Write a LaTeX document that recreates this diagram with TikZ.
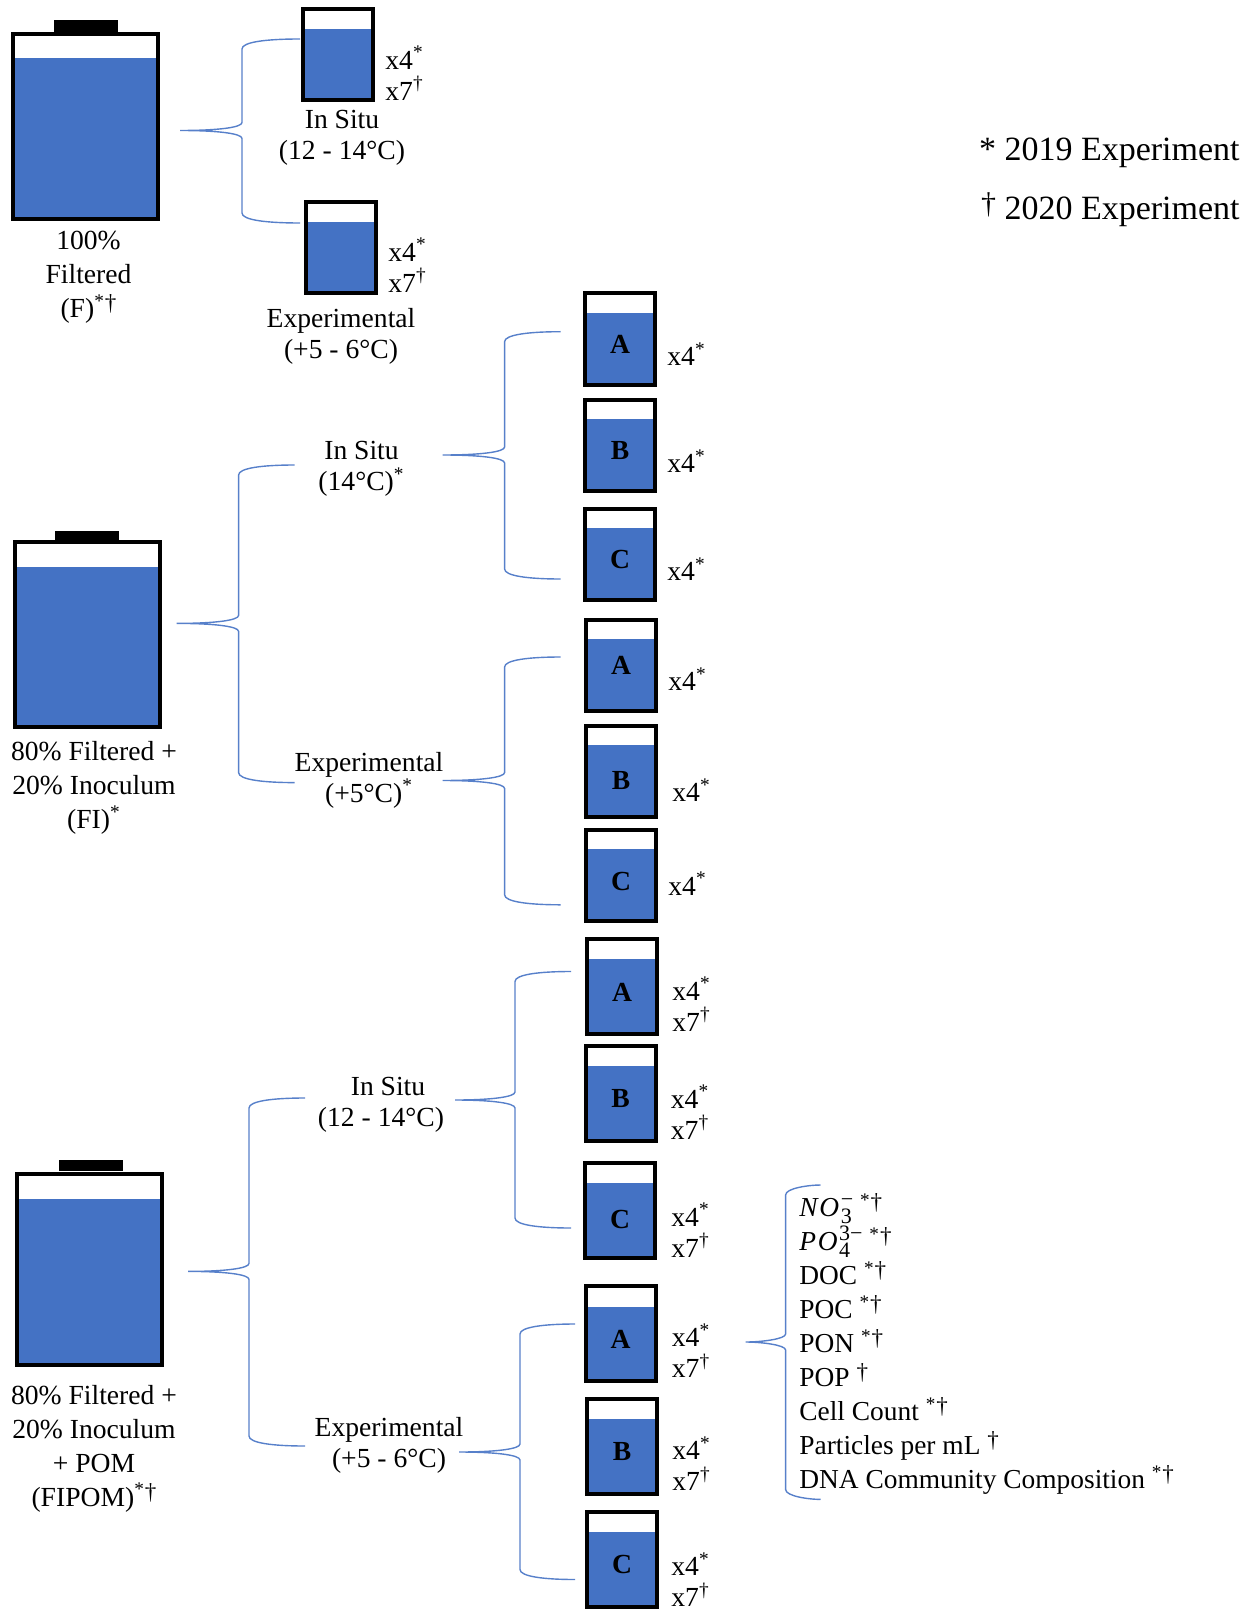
\documentclass[tikz,border=0pt]{standalone}
\usepackage{fontspec}
\setmainfont{Liberation Serif}
\usetikzlibrary{positioning, calc}
\definecolor{waterblue}{HTML}{4472C4}
\newcommand{\yrA}{\textsuperscript{*}}
\newcommand{\yrB}{\textsuperscript{†}}
\newcommand{\yrC}{\raisebox{3.5pt}{\fontsize{11.5}{11.5}\selectfont †}}
\newcommand{\yrAB}{\textsuperscript{*}\yrC}
\newcommand{\ion}[3]{{\addfontfeature{LetterSpace=6}\textit{#1}}\raisebox{-3.5pt}{\rlap{\fontsize{11}{11}\selectfont #2}}\raisebox{5pt}{\fontsize{11}{11}\selectfont #3}}
% spine sits #4 to the right of the tip
\newcommand{\forkbrace}[4]{
  \draw[fork] let \p1=(#1), \p2=(#2), \p3=(#3) in
    (\p2) .. controls (\x1+#4+12pt,\y2) and (\x1+#4,\y2-1.5pt) .. (\x1+#4,\y2-5pt)
    -- (\x1+#4,\y1+4pt) .. controls (\x1+#4,\y1+1.5pt) and (\x1+#4-12pt,\y1) .. (\p1)
    .. controls (\x1+#4-12pt,\y1) and (\x1+#4,\y1-1.5pt) .. (\x1+#4,\y1-4pt)
    -- (\x1+#4,\y3+5pt) .. controls (\x1+#4,\y3+1.5pt) and (\x1+#4+12pt,\y3) .. (\p3);
}

\begin{document}
\begin{tikzpicture}[
    x=0.5pt, y=-0.5pt,
    every node/.style={font=\fontsize{13.8}{15.5}\selectfont, inner sep=0pt},
    bottle/.style={rectangle, draw=black, fill=white, line width=2pt, text height=15pt, font=\fontsize{13.8}{15.5}\selectfont\bfseries,
        path picture={\fill[waterblue] (path picture bounding box.south west) rectangle ($(path picture bounding box.south east)!#1!(path picture bounding box.north east)$);}},
    bigbottle/.style={bottle=0.868, minimum width=72.5pt, minimum height=92.5pt},
    smallbottle/.style={bottle=0.79, minimum width=35pt, minimum height=45.5pt},
    tallbottle/.style={bottle=0.78, minimum width=35pt, minimum height=47.5pt},
    lid/.style={fill=black, minimum width=32pt, minimum height=6pt},
    tally/.style={align=left, xshift=-1pt, yshift=1pt},
    treat/.style={align=center},
    mix/.style={align=center, font=\fontsize{13.8}{17}\selectfont},
    fork/.style={draw=waterblue!90, line width=0.7pt}
]
\useasboundingbox (0,0) rectangle (1252,1610);

% 100% filtered
\node[bigbottle] (F) at (85.5,126.5) {};
\node[lid, above=0pt of F] (Flid) {};
\node[mix, below=5pt of F, xshift=1.5pt] (Flabel) {100\%\\Filtered\\(F)\yrAB};
\node[smallbottle] (Fs) at (338,55) {};
\node[smallbottle] (Fe) at (341,248) {};
\node[tally, right=6pt of Fs, yshift=-10pt] (Fsn) {x4\yrA\\x7\yrB};
\node[tally, right=6pt of Fe, yshift=-9.5pt] (Fen) {x4\yrA\\x7\yrB};
\node[treat, below=3.5pt of Fs, xshift=2pt] (FsT) {In Situ\\(12 - 14°C)};
\node[treat, below=6pt of Fe] (FeT) {Experimental\\(+5 - 6°C)};

% filtered + inoculum
\node[bigbottle] (FI) at (87,634.7) {};
\node[lid, above=0pt of FI, minimum height=4.5pt] (FIlid) {};
\node[mix, below=6pt of FI, xshift=3.5pt] (FIlabel) {80\% Filtered +\\20\% Inoculum\\(FI)\yrA};
\node[treat] (FIs) at (361.5,469) {In Situ\\(14°C)\yrA};
\node[treat] (FIe) at (369,780) {Experimental\\(+5°C)\yrA};

\node[smallbottle] (FIsA) at (620,339) {A};
\node[smallbottle] (FIsB) at (620,445) {B};
\node[smallbottle] (FIsC) at (620,554) {C};
\node[smallbottle, text height=9pt] (FIeA) at (621,665.5) {A};
\node[smallbottle, text height=19pt] (FIeB) at (621,771) {B};
\node[smallbottle] (FIeC) at (621,875.5) {C};
\node[tally, right=6pt of FIsA, yshift=-8.7pt] (FIsAn) {x4\yrA};
\node[tally, right=6pt of FIsB, yshift=-9pt] (FIsBn) {x4\yrA};
\node[tally, right=6pt of FIsC, yshift=-8.5pt] (FIsCn) {x4\yrA};
\node[tally, right=6pt of FIeA, yshift=-7.7pt] (FIeAn) {x4\yrA};
\node[tally, right=8pt of FIeB, yshift=-10.5pt] (FIeBn) {x4\yrA};
\node[tally, right=6pt of FIeC, yshift=-5pt] (FIeCn) {x4\yrA};

% filtered + inoculum + POM
\node[bigbottle, minimum height=95.5pt] (FP) at (89,1269) {};
\node[lid, above=0pt of FP, xshift=1pt, minimum height=5.5pt] (FPlid) {};
\node[mix, below=9pt of FP, xshift=2.5pt] (FPlabel) {80\% Filtered +\\20\% Inoculum\\+ POM\\(FIPOM)\yrAB};
\node[treat] (FPs) at (381,1105) {\hspace*{7pt}In Situ\\(12 - 14°C)};
\node[treat] (FPe) at (389,1445.5) {Experimental\\(+5 - 6°C)};

\node[tallbottle] (FPsA) at (622,986) {A};
\node[tallbottle] (FPsB) at (620.5,1093) {B};
\node[tallbottle, text height=19pt] (FPsC) at (620,1210) {C};
\node[tallbottle] (FPeA) at (620.5,1333.5) {A};
\node[tallbottle] (FPeB) at (622,1446) {B};
\node[tallbottle] (FPeC) at (622,1559) {C};
\node[tally, right=7.5pt of FPsA, yshift=-10pt] (FPsAn) {x4\yrA\\x7\yrB};
\node[tally, right=7.5pt of FPsB, yshift=-10.5pt] (FPsBn) {x4\yrA\\x7\yrB};
\node[tally, right=8pt of FPsC, yshift=-11pt] (FPsCn) {x4\yrA\\x7\yrB};
\node[tally, right=8pt of FPeA, yshift=-9.5pt] (FPeAn) {x4\yrA\\x7\yrB};
\node[tally, right=7.5pt of FPeB, yshift=-9.8pt] (FPeBn) {x4\yrA\\x7\yrB};
\node[tally, right=7pt of FPeC, yshift=-11.3pt] (FPeCn) {x4\yrA\\x7\yrB};

% measured variables and key
\node[align=left, anchor=west, font=\fontsize{13.7}{17}\selectfont] (vars) at (799,1344) {%
    \ion{NO}{3}{−} \yrAB\\
    \ion{PO}{4}{3−} \yrAB\\
    DOC \yrAB\\
    POC \yrAB\\
    PON \yrAB\\
    POP \yrC\\
    Cell Count \yrAB\\
    Particles per mL \yrC\\
    DNA Community Composition \yrAB};
\node[anchor=east, font=\fontsize{17}{20}\selectfont] (key19) at (1240,153) {* 2019 Experiment};
\node[anchor=east, font=\fontsize{17}{20}\selectfont] (key20) at (1240,209.5) {\raisebox{3pt}{\fontsize{15}{15}\selectfont †} 2020 Experiment};

% brace ends
\coordinate (b1) at (180,130.5); \coordinate (b1t) at (300,39); \coordinate (b1b) at (300,223);
\coordinate (b2) at (176.6,623.4); \coordinate (b2t) at (294.7,465); \coordinate (b2b) at (294.7,782.6);
\coordinate (b3) at (442.6,455); \coordinate (b3t) at (560.7,331.7); \coordinate (b3b) at (560.7,579);
\coordinate (b4) at (442.6,780.5); \coordinate (b4t) at (560.7,657); \coordinate (b4b) at (560.7,904.8);
\coordinate (b5) at (188,1271.4); \coordinate (b5t) at (305,1098); \coordinate (b5b) at (305,1446);
\coordinate (b6) at (455,1100); \coordinate (b6t) at (571,971.5); \coordinate (b6b) at (571,1228);
\coordinate (b7) at (459,1452); \coordinate (b7t) at (575,1324); \coordinate (b7b) at (575,1579.5);
\coordinate (b8) at (745.6,1342); \coordinate (b8t) at (820.5,1185); \coordinate (b8b) at (820.5,1499.4);

\forkbrace{b1}{b1t}{b1b}{31pt}
\forkbrace{b2}{b2t}{b2b}{31pt}
\forkbrace{b3}{b3t}{b3b}{31pt}
\forkbrace{b4}{b4t}{b4b}{31pt}
\forkbrace{b5}{b5t}{b5b}{30.5pt}
\forkbrace{b6}{b6t}{b6b}{30pt}
\forkbrace{b7}{b7t}{b7b}{30.5pt}
\forkbrace{b8}{b8t}{b8b}{20pt}
\end{tikzpicture}
\end{document}
